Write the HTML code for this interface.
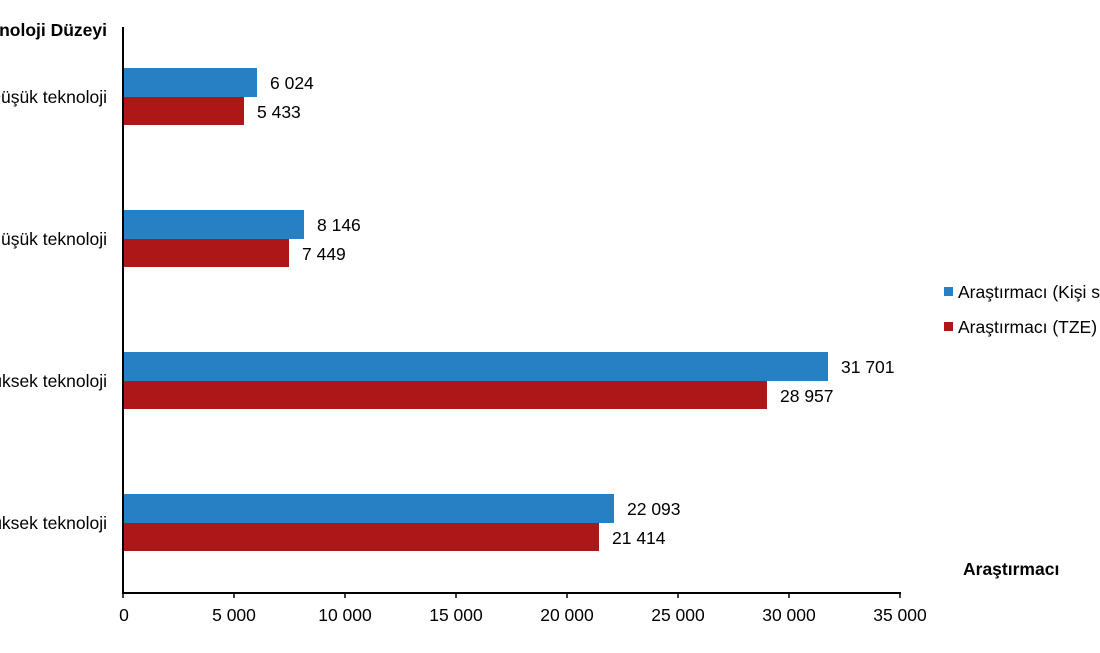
<!DOCTYPE html>
<html><head><meta charset="utf-8"><style>
body{margin:0;background:#fff}
svg text{font-family:"Liberation Sans",Arial,sans-serif;font-size:17.5px;fill:#000}
</style></head><body>
<svg width="1100" height="648" viewBox="0 0 1100 648" xmlns="http://www.w3.org/2000/svg">
<rect width="1100" height="648" fill="#fff"/>
<g>
<rect x="123" y="68" width="134" height="29" fill="#2880c4"/>
<rect x="123" y="97" width="121" height="28" fill="#ae1717"/>
<rect x="123" y="210" width="181" height="29" fill="#2880c4"/>
<rect x="123" y="239" width="166" height="28" fill="#ae1717"/>
<rect x="123" y="352" width="705" height="29" fill="#2880c4"/>
<rect x="123" y="381" width="644" height="28" fill="#ae1717"/>
<rect x="123" y="494" width="491" height="29" fill="#2880c4"/>
<rect x="123" y="523" width="476" height="28" fill="#ae1717"/>
</g>
<text x="270" y="89">6 024</text>
<text x="257" y="118">5 433</text>
<text x="317" y="231">8 146</text>
<text x="302" y="260">7 449</text>
<text x="841" y="373">31 701</text>
<text x="780" y="402">28 957</text>
<text x="627" y="515">22 093</text>
<text x="612" y="544">21 414</text>
<line x1="123" y1="27" x2="123" y2="594" stroke="#000" stroke-width="2"/>
<line x1="122" y1="593" x2="901" y2="593" stroke="#000" stroke-width="2"/>
<g stroke="#000" stroke-width="1.5">
<line x1="123" y1="593" x2="123" y2="598"/><line x1="234" y1="593" x2="234" y2="598"/>
<line x1="345" y1="593" x2="345" y2="598"/><line x1="456" y1="593" x2="456" y2="598"/>
<line x1="567" y1="593" x2="567" y2="598"/><line x1="678" y1="593" x2="678" y2="598"/>
<line x1="789" y1="593" x2="789" y2="598"/><line x1="900" y1="593" x2="900" y2="598"/>
</g>
<g text-anchor="middle">
<text x="124" y="621">0</text><text x="234" y="621">5 000</text><text x="345" y="621">10 000</text>
<text x="456" y="621">15 000</text><text x="567" y="621">20 000</text><text x="678" y="621">25 000</text>
<text x="789" y="621">30 000</text><text x="900" y="621">35 000</text>
</g>
<g text-anchor="end">
<text x="107" y="103">Düşük teknoloji</text>
<text x="107" y="245">Orta düşük teknoloji</text>
<text x="107" y="387">Orta yüksek teknoloji</text>
<text x="107" y="529">Yüksek teknoloji</text>
</g>
<text x="107" y="36" text-anchor="end" style="font-weight:bold">Teknoloji Düzeyi</text>
<text x="963" y="575" style="font-weight:bold">Araştırmacı</text>
<rect x="944" y="287" width="9" height="9" fill="#2880c4"/>
<text x="958" y="298">Araştırmacı (Kişi sayısı)</text>
<rect x="944" y="322" width="9" height="9" fill="#ae1717"/>
<text x="958" y="333">Araştırmacı (TZE)</text>
</svg>
</body></html>
